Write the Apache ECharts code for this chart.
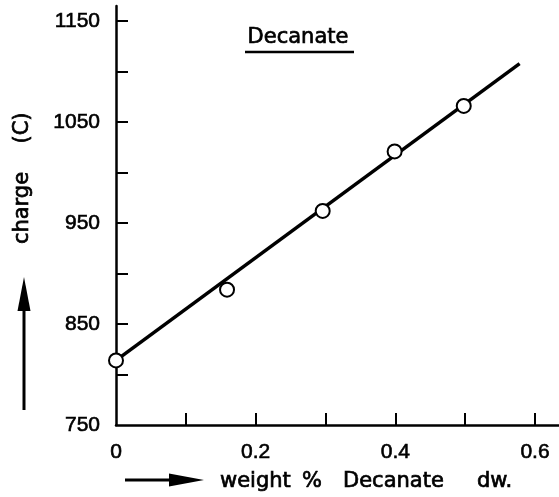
<!DOCTYPE html>
<html>
<head>
<meta charset="utf-8">
<script src="https://cdn.jsdelivr.net/npm/echarts@6/dist/echarts.min.js"></script>
<style>
html,body{margin:0;padding:0;background:#fff;}
#chart{width:559px;height:497px;}
</style>
</head>
<body>
<div id="chart"></div>
<script>
// Data
const pointX = [0, 0.159, 0.296, 0.399, 0.498];
const pointY = [814, 884, 962, 1021, 1066];
const fitX = [0, 0.578];
const fitY = [814, 1108];
const xTickValues = [0.1, 0.2, 0.3, 0.4, 0.5, 0.6];
const xLabelValues = [0, 0.2, 0.4, 0.6];
const yTickValues = [800, 850, 900, 950, 1000, 1050, 1100, 1150];
const yLabelValues = [750, 850, 950, 1050, 1150];
const titleText = 'Decanate';
const yNameParts = ['charge', '(C)'];
const xNameParts = ['weight', '%', 'Decanate', 'dw.'];

const chart = echarts.init(document.getElementById('chart'));
const numFont = 'Liberation Sans';
const txtFont = 'DejaVu Sans';
const black = '#000';
const txt = (text, extra) => Object.assign({ text, fontSize: 21, fontFamily: txtFont, fill: black, stroke: black, lineWidth: 0.7 }, extra);

const option = {
  backgroundColor: '#fff',
  animation: false,
  grid: { left: 116, right: 0, top: 6, bottom: 72 },
  xAxis: {
    type: 'value', min: 0, max: 0.6344, interval: 0.1,
    splitLine: { show: false },
    axisLine: { show: true, onZero: false, lineStyle: { color: black, width: 2.5 } },
    axisTick: { show: true, inside: true, length: 12, customValues: xTickValues, lineStyle: { color: black, width: 2 } },
    axisLabel: { customValues: xLabelValues, margin: 17, color: black, fontSize: 21, fontFamily: numFont,
      textBorderColor: black, textBorderWidth: 0.6,
      formatter: v => v === 0 ? '0' : v.toFixed(1) }
  },
  yAxis: {
    type: 'value', min: 750, max: 1165, interval: 50,
    splitLine: { show: false },
    axisLine: { show: true, onZero: false, lineStyle: { color: black, width: 2.5 } },
    axisTick: { show: true, inside: true, length: 12, customValues: yTickValues, lineStyle: { color: black, width: 2 } },
    axisLabel: { customValues: yLabelValues, margin: 16, color: black, fontSize: 21, fontFamily: numFont,
      textBorderColor: black, textBorderWidth: 0.6,
      formatter: v => String(Math.round(v)) }
  },
  series: [
    {
      type: 'line', data: fitX.map((x, i) => [x, fitY[i]]),
      symbol: 'none', lineStyle: { color: black, width: 3.5 }, z: 2
    },
    {
      type: 'scatter', data: pointX.map((x, i) => [x, pointY[i]]),
      symbol: 'circle', symbolSize: 14,
      itemStyle: { color: '#fff', borderColor: black, borderWidth: 2, opacity: 1 }, z: 3
    }
  ],
  graphic: [
    { type: 'text', x: 298, y: 38, style: txt(titleText, { align: 'center', verticalAlign: 'middle' }) },
    { type: 'line', shape: { x1: 245, y1: 52, x2: 354, y2: 52 }, style: { stroke: black, lineWidth: 2.5 } },
    // y axis name
    { type: 'text', x: 23, y: 208, rotation: Math.PI / 2, style: txt(yNameParts[0], { align: 'center', verticalAlign: 'middle' }) },
    { type: 'text', x: 23, y: 128, rotation: Math.PI / 2, style: txt(yNameParts[1], { align: 'center', verticalAlign: 'middle' }) },
    // x axis name
    { type: 'text', x: 220, y: 482, style: txt(xNameParts[0], { align: 'left', verticalAlign: 'middle' }) },
    { type: 'text', x: 302, y: 482, style: txt(xNameParts[1], { align: 'left', verticalAlign: 'middle' }) },
    { type: 'text', x: 343, y: 482, style: txt(xNameParts[2], { align: 'left', verticalAlign: 'middle' }) },
    { type: 'text', x: 477, y: 482, style: txt(xNameParts[3], { align: 'left', verticalAlign: 'middle' }) },
    // vertical arrow
    { type: 'line', shape: { x1: 24, y1: 410, x2: 24, y2: 305 }, style: { stroke: black, lineWidth: 3 } },
    { type: 'polygon', shape: { points: [[24, 277], [17.5, 311], [30.5, 311]] }, style: { fill: black } },
    // horizontal arrow
    { type: 'line', shape: { x1: 125, y1: 480, x2: 175, y2: 480 }, style: { stroke: black, lineWidth: 3 } },
    { type: 'polygon', shape: { points: [[204, 480], [169, 473.5], [169, 486.5]] }, style: { fill: black } }
  ]
};
chart.setOption(option);
</script>
</body>
</html>
